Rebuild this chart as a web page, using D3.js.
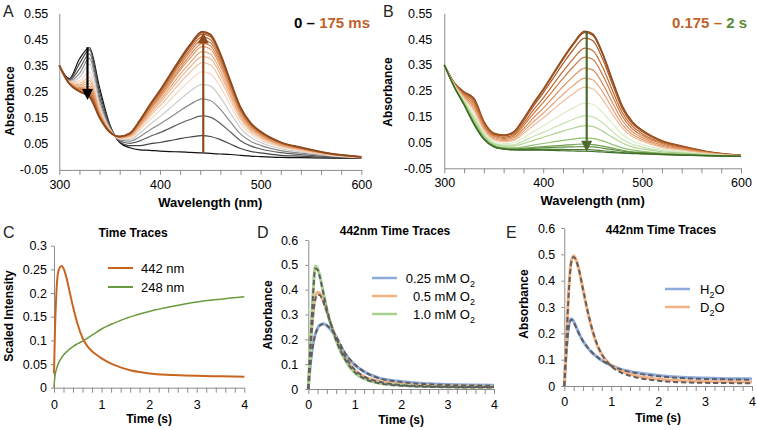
<!DOCTYPE html>
<html><head><meta charset="utf-8">
<script src="https://cdn.jsdelivr.net/npm/d3@7"></script>
<style>
body{margin:0;background:#fff;}
svg{display:block;font-family:"Liberation Sans",Arial,sans-serif;}
</style></head><body>
<svg id="c" width="757" height="430"></svg>
<script>
// ---------- DATA ----------
const wavelengths = [300,310,320,330,340,350,360,370,380,390,400,410,420,430,442,450,460,470,480,490,500,520,540,570,600];

// Panel A: 0 - 175 ms spectra
const spectraA = [
 [0.35,0.300,0.375,0.418,0.265,0.125,0.055,0.035,0.027,0.025,0.022,0.020,0.019,0.017,0.015,0.013,0.011,0.009,0.006,0.003,0.001,-0.002,-0.003,-0.005,-0.006],
 [0.35,0.297,0.357,0.410,0.249,0.121,0.058,0.043,0.043,0.050,0.055,0.062,0.070,0.076,0.081,0.078,0.066,0.049,0.032,0.021,0.015,0.006,0.003,-0.003,-0.005],
 [0.35,0.294,0.337,0.395,0.230,0.116,0.062,0.052,0.061,0.078,0.093,0.110,0.128,0.143,0.157,0.152,0.128,0.095,0.062,0.042,0.030,0.016,0.009,0.000,-0.004],
 [0.35,0.291,0.319,0.378,0.214,0.112,0.065,0.060,0.077,0.103,0.126,0.151,0.177,0.201,0.222,0.216,0.182,0.134,0.088,0.060,0.044,0.024,0.014,0.003,-0.003],
 [0.35,0.289,0.304,0.355,0.200,0.108,0.068,0.066,0.091,0.124,0.154,0.187,0.220,0.251,0.278,0.272,0.228,0.168,0.110,0.075,0.055,0.031,0.019,0.005,-0.003],
 [0.35,0.287,0.291,0.325,0.188,0.105,0.070,0.072,0.103,0.142,0.178,0.217,0.257,0.293,0.326,0.319,0.268,0.197,0.129,0.088,0.065,0.037,0.023,0.006,-0.002],
 [0.35,0.285,0.282,0.305,0.179,0.103,0.072,0.076,0.111,0.155,0.195,0.239,0.284,0.324,0.361,0.353,0.297,0.218,0.143,0.097,0.072,0.041,0.026,0.008,-0.002],
 [0.35,0.284,0.276,0.292,0.174,0.101,0.073,0.079,0.117,0.164,0.207,0.254,0.302,0.345,0.384,0.376,0.316,0.232,0.152,0.104,0.077,0.044,0.028,0.009,-0.001],
 [0.35,0.283,0.271,0.281,0.169,0.100,0.074,0.081,0.121,0.171,0.216,0.266,0.316,0.361,0.403,0.394,0.331,0.243,0.159,0.109,0.081,0.046,0.030,0.009,-0.001],
 [0.35,0.283,0.266,0.270,0.164,0.099,0.075,0.083,0.126,0.178,0.226,0.278,0.331,0.378,0.422,0.413,0.347,0.255,0.167,0.114,0.085,0.049,0.031,0.010,-0.001],
 [0.35,0.282,0.262,0.262,0.161,0.098,0.076,0.085,0.129,0.183,0.232,0.286,0.340,0.390,0.435,0.426,0.358,0.263,0.172,0.118,0.088,0.050,0.032,0.010,-0.001],
 [0.35,0.281,0.259,0.254,0.158,0.097,0.076,0.086,0.132,0.188,0.239,0.295,0.350,0.402,0.448,0.438,0.368,0.271,0.177,0.121,0.090,0.052,0.033,0.011,0.000],
 [0.35,0.281,0.255,0.246,0.155,0.096,0.077,0.088,0.135,0.193,0.245,0.302,0.360,0.412,0.460,0.450,0.378,0.278,0.182,0.125,0.093,0.054,0.034,0.011,0.000],
 [0.35,0.280,0.252,0.240,0.152,0.096,0.078,0.089,0.138,0.196,0.250,0.309,0.367,0.421,0.470,0.460,0.387,0.284,0.186,0.127,0.095,0.055,0.035,0.012,0.000],
 [0.35,0.280,0.251,0.235,0.151,0.095,0.078,0.090,0.139,0.198,0.253,0.312,0.372,0.426,0.476,0.466,0.392,0.287,0.188,0.129,0.096,0.055,0.036,0.012,0.000],
 [0.35,0.280,0.250,0.230,0.150,0.095,0.078,0.090,0.140,0.200,0.255,0.315,0.375,0.430,0.480,0.470,0.395,0.290,0.190,0.130,0.097,0.056,0.036,0.012,0.000]
];
const colorsA = ['#111111','#444444','#5e5e5e','#8a8a8a','#cbcbcb','#f5d7c2','#f0c3a2','#ecb690','#e7a87c','#e29b6a','#d98c57','#d07e48','#c4713b','#b86531','#a65827','#8e4a1f'];

// Panel B: 0.175 - 2 s spectra
const spectraB = [
 [0.35,0.280,0.245,0.220,0.130,0.085,0.078,0.090,0.140,0.200,0.255,0.315,0.375,0.430,0.480,0.470,0.395,0.290,0.190,0.130,0.097,0.056,0.036,0.012,0.000],
 [0.35,0.280,0.245,0.219,0.129,0.084,0.077,0.089,0.139,0.198,0.253,0.312,0.371,0.426,0.475,0.465,0.391,0.287,0.188,0.129,0.096,0.055,0.036,0.012,0.000],
 [0.35,0.279,0.242,0.214,0.126,0.082,0.075,0.086,0.133,0.190,0.242,0.298,0.355,0.407,0.454,0.445,0.374,0.274,0.180,0.123,0.092,0.053,0.034,0.011,0.000],
 [0.35,0.278,0.238,0.206,0.120,0.078,0.070,0.080,0.123,0.175,0.222,0.274,0.325,0.372,0.415,0.406,0.342,0.251,0.165,0.113,0.084,0.049,0.031,0.010,-0.001],
 [0.35,0.277,0.234,0.198,0.115,0.074,0.066,0.075,0.114,0.161,0.204,0.251,0.298,0.341,0.380,0.372,0.312,0.230,0.151,0.103,0.077,0.045,0.028,0.009,-0.001],
 [0.35,0.275,0.230,0.189,0.109,0.069,0.061,0.069,0.103,0.145,0.183,0.224,0.266,0.304,0.338,0.331,0.278,0.205,0.135,0.092,0.069,0.040,0.025,0.008,-0.001],
 [0.35,0.274,0.226,0.181,0.103,0.065,0.057,0.063,0.093,0.130,0.163,0.200,0.236,0.269,0.299,0.293,0.246,0.181,0.119,0.082,0.062,0.035,0.022,0.007,-0.002],
 [0.35,0.273,0.222,0.173,0.098,0.061,0.053,0.058,0.084,0.116,0.145,0.177,0.209,0.238,0.264,0.258,0.217,0.160,0.106,0.073,0.055,0.031,0.020,0.006,-0.002],
 [0.35,0.271,0.215,0.160,0.089,0.054,0.046,0.049,0.068,0.092,0.114,0.138,0.161,0.183,0.202,0.198,0.166,0.123,0.082,0.056,0.043,0.024,0.015,0.004,-0.002],
 [0.35,0.269,0.210,0.150,0.082,0.048,0.040,0.041,0.055,0.073,0.089,0.106,0.123,0.139,0.153,0.149,0.126,0.093,0.062,0.043,0.033,0.019,0.011,0.002,-0.003],
 [0.35,0.268,0.206,0.141,0.076,0.044,0.036,0.036,0.046,0.058,0.070,0.082,0.094,0.105,0.115,0.112,0.094,0.070,0.048,0.033,0.025,0.014,0.009,0.001,-0.003],
 [0.35,0.267,0.201,0.131,0.070,0.039,0.030,0.029,0.033,0.040,0.046,0.052,0.058,0.063,0.068,0.066,0.056,0.042,0.029,0.021,0.016,0.009,0.005,0.000,-0.004],
 [0.35,0.266,0.198,0.126,0.066,0.036,0.027,0.025,0.027,0.031,0.034,0.037,0.039,0.042,0.044,0.042,0.036,0.028,0.020,0.014,0.012,0.006,0.003,-0.001,-0.004],
 [0.35,0.266,0.197,0.124,0.065,0.035,0.026,0.024,0.025,0.027,0.029,0.031,0.032,0.033,0.034,0.033,0.028,0.022,0.016,0.012,0.010,0.005,0.002,-0.001,-0.004],
 [0.35,0.265,0.196,0.121,0.063,0.034,0.025,0.022,0.022,0.022,0.023,0.023,0.023,0.022,0.022,0.021,0.018,0.015,0.011,0.009,0.007,0.004,0.001,-0.002,-0.004],
 [0.35,0.265,0.195,0.120,0.062,0.033,0.024,0.021,0.020,0.020,0.020,0.019,0.018,0.017,0.016,0.015,0.013,0.011,0.009,0.007,0.006,0.003,0.001,-0.002,-0.004]
];
const colorsB = ['#8e4a1f','#9a501f','#ab5a25','#bc6a33','#cd7b44','#db8d59','#e7a276','#f0bc98','#ddebc9','#c7e1ae','#acd28f','#8fbe6d','#6e9f4e','#5d8d3f','#4e7c33','#3f6a27'];

const specYTicks = [-0.05,0.05,0.15,0.25,0.35,0.45,0.55];
const specXTicks = [300,400,500,600];

// Arrows (wavelength, start absorbance, end absorbance)
const arrowsA = [{wl:328, from:0.42, to:0.218, color:'#000000'}, {wl:443, from:0.015, to:0.476, color:'#8e4a1f'}];
const arrowsB = [{wl:444, from:0.48, to:0.014, color:'#4b6b2e'}];

// Panel C: time traces
const timeC442 = [0,0.02,0.05,0.08,0.12,0.16,0.2,0.25,0.3,0.35,0.4,0.5,0.6,0.7,0.8,0.9,1.0,1.2,1.4,1.6,1.8,2.0,2.5,3.0,3.5,4.0];
const valC442 = [0.03,0.12,0.2,0.24,0.254,0.257,0.252,0.237,0.216,0.193,0.171,0.133,0.105,0.088,0.077,0.069,0.062,0.051,0.043,0.037,0.033,0.030,0.027,0.025,0.024,0.023];
const timeC248 = [0,0.01,0.03,0.06,0.1,0.15,0.2,0.3,0.4,0.5,0.65,0.8,1.0,1.25,1.5,1.75,2.0,2.5,3.0,3.5,4.0];
const valC248 = [0,0.015,0.03,0.042,0.053,0.062,0.069,0.079,0.087,0.093,0.101,0.111,0.124,0.136,0.146,0.154,0.161,0.172,0.181,0.187,0.192];
const yTicksC = [0,0.05,0.1,0.15,0.2,0.25,0.3];

// Panel D: 442 nm traces at O2 concentrations
const timeD = [0,0.05,0.1,0.15,0.2,0.25,0.3,0.35,0.4,0.5,0.6,0.7,0.8,1.0,1.2,1.5,2.0,2.5,3.0,3.5,4.0];
const d025 = [0,0.11,0.18,0.22,0.245,0.257,0.262,0.262,0.255,0.235,0.21,0.172,0.14,0.097,0.07,0.046,0.03,0.022,0.018,0.016,0.015];
const fitD025 = [0,0.105,0.175,0.218,0.243,0.256,0.261,0.261,0.256,0.238,0.212,0.176,0.143,0.099,0.07,0.045,0.028,0.02,0.016,0.014,0.013];
const d05 = [0,0.17,0.3,0.37,0.39,0.385,0.365,0.34,0.31,0.255,0.205,0.16,0.125,0.075,0.05,0.032,0.019,0.014,0.012,0.011,0.01];
const fitD05 = [0,0.165,0.29,0.36,0.38,0.378,0.362,0.338,0.31,0.255,0.206,0.163,0.128,0.078,0.05,0.03,0.016,0.011,0.009,0.008,0.008];
const d10 = [0,0.2,0.38,0.495,0.485,0.455,0.41,0.365,0.32,0.25,0.195,0.15,0.115,0.065,0.042,0.025,0.015,0.011,0.009,0.008,0.008];
const fitD10 = [0,0.2,0.37,0.485,0.48,0.45,0.408,0.364,0.322,0.252,0.196,0.152,0.117,0.068,0.042,0.024,0.013,0.009,0.007,0.006,0.006];
const legendD = ['0.25 mM O', '0.5 mM O', '1.0 mM O'];

// Panel E: 442 nm traces H2O vs D2O
const timeE = [0,0.05,0.1,0.15,0.2,0.25,0.3,0.4,0.5,0.6,0.7,0.8,1.0,1.2,1.5,2.0,2.5,3.0,3.5,4.0];
const eH2O = [0,0.15,0.235,0.255,0.245,0.225,0.205,0.17,0.145,0.125,0.11,0.097,0.078,0.064,0.052,0.04,0.033,0.03,0.028,0.027];
const fitH2O = [0,0.14,0.228,0.252,0.243,0.223,0.203,0.17,0.146,0.126,0.11,0.097,0.077,0.063,0.05,0.037,0.03,0.027,0.025,0.024];
const eD2O = [0,0.2,0.38,0.475,0.495,0.48,0.45,0.365,0.28,0.21,0.155,0.12,0.078,0.058,0.04,0.026,0.02,0.017,0.016,0.015];
const fitD2O = [0,0.19,0.37,0.47,0.49,0.478,0.45,0.367,0.283,0.212,0.158,0.12,0.075,0.052,0.034,0.02,0.014,0.012,0.011,0.01];
const yTicksDE = [0,0.1,0.2,0.3,0.4,0.5,0.6];
const timeTicks = [0,1,2,3,4];

// ---------- DRAWING ----------
const svg = d3.select('#c');
const AX = '#8c8c8c';
const blue = '#8faadc', orange = '#f4b183', green = '#a9d18e', dash = '#5f5f5f';

function styleAxis(g, fs) {
  g.select('.domain').attr('stroke', AX).attr('stroke-width', 1);
  g.selectAll('.tick line').attr('stroke', AX);
  g.selectAll('.tick text').attr('fill', '#000').style('font-size', fs + 'px').style('font-family', '"Liberation Sans",Arial,sans-serif');
}
function drawAxes(x, y, o) {
  const minor = o.minor;
  const major = new Set(o.xMajor.map(String));
  const gx = svg.append('g').attr('transform', `translate(0,${y.range()[0]})`)
    .call(d3.axisBottom(x).tickValues(minor).tickSize(5).tickSizeOuter(0).tickPadding(o.xPad)
      .tickFormat(d => major.has(String(d)) ? String(d) : ''));
  styleAxis(gx, o.fs);
  const gy = svg.append('g').attr('transform', `translate(${x.range()[0]},0)`)
    .call(d3.axisLeft(y).tickValues(o.yTicks).tickSize(o.yTick).tickSizeOuter(0).tickPadding(o.yPad).tickFormat(o.yFmt));
  styleAxis(gy, o.fs);
  svg.append('text').attr('x', (x.range()[0] + x.range()[1]) / 2 + (o.xtDx||0)).attr('y', o.xtY)
    .attr('text-anchor', 'middle').attr('font-weight', 'bold').attr('font-size', o.xtFs).text(o.xTitle);
  svg.append('text').attr('transform', `translate(${o.ytX},${o.ytY}) rotate(-90)`)
    .attr('text-anchor', 'middle').attr('font-weight', 'bold').attr('font-size', o.ytFs).text(o.yTitle);
}
function arrow(x, y, a) {
  const x0 = x(a.wl), y0 = y(a.from), y1 = y(a.to);
  const dir = y1 > y0 ? 1 : -1, hh = 11, hw = 5.5;
  svg.append('line').attr('x1', x0).attr('x2', x0).attr('y1', y0).attr('y2', y1 - dir * hh)
    .attr('stroke', a.color).attr('stroke-width', 2.2);
  svg.append('path').attr('d', `M${x0},${y1} L${x0 - hw},${y1 - dir * hh} L${x0 + hw},${y1 - dir * hh} Z`).attr('fill', a.color);
}
function fmtSpec(d) { return d.toFixed(2); }
function fmtGen(d) { return String(+d.toFixed(2)); }

// Panel A
const xA = d3.scaleLinear().domain([300, 600]).range([59.3, 361.3]);
const yA = d3.scaleLinear().domain([-0.05, 0.55]).range([169.9, 13.3]);
const specMinor = d3.range(300, 601, 20);
drawAxes(xA, yA, {minor: specMinor, xMajor: specXTicks, xPad: 5, yTicks: specYTicks, yTick: 0, yPad: 11, yFmt: fmtSpec, fs: 12.5,
  xTitle: 'Wavelength  (nm)', xtY: 207, xtFs: 13, yTitle: 'Absorbance', ytX: 14, ytY: 101, ytFs: 12});
const lineA = d3.line().x((d, i) => xA(wavelengths[i])).y(d => yA(d)).curve(d3.curveMonotoneX);
spectraA.forEach((s, i) => svg.append('path').attr('d', lineA(s)).attr('fill', 'none')
  .attr('stroke', colorsA[i]).attr('stroke-width', i === spectraA.length - 1 ? 1.8 : 1.2));
arrowsA.forEach(a => arrow(xA, yA, a));
const tA = svg.append('text').attr('x', 370).attr('y', 28).attr('text-anchor', 'end').attr('font-weight', 'bold').attr('font-size', 15);
tA.append('tspan').attr('fill', '#000').text('0 – ');
tA.append('tspan').attr('fill', '#c0622a').text('175 ms');

// Panel B
const xB = d3.scaleLinear().domain([300, 600]).range([444.3, 741]);
const yB = d3.scaleLinear().domain([-0.05, 0.55]).range([168.3, 13.3]);
drawAxes(xB, yB, {minor: specMinor, xMajor: specXTicks, xPad: 5, yTicks: specYTicks, yTick: 0, yPad: 12, yFmt: fmtSpec, fs: 12.5,
  xTitle: 'Wavelength  (nm)', xtY: 205, xtFs: 13, yTitle: 'Absorbance', ytX: 392, ytY: 92, ytFs: 12});
const lineB = d3.line().x((d, i) => xB(wavelengths[i])).y(d => yB(d)).curve(d3.curveMonotoneX);
spectraB.forEach((s, i) => svg.append('path').attr('d', lineB(s)).attr('fill', 'none')
  .attr('stroke', colorsB[i]).attr('stroke-width', i === 0 ? 1.8 : 1.2));
arrowsB.forEach(a => arrow(xB, yB, a));
const tB = svg.append('text').attr('x', 747).attr('y', 28).attr('text-anchor', 'end').attr('font-weight', 'bold').attr('font-size', 15);
tB.append('tspan').attr('fill', '#c0622a').text('0.175 – ');
tB.append('tspan').attr('fill', '#5b8a36').text('2 s');

// Panel letters
[['A', 3, 17], ['B', 383, 17], ['C', 3, 238], ['D', 257, 238], ['E', 506, 238]].forEach(([t, x, y]) =>
  svg.append('text').attr('x', x).attr('y', y).attr('font-size', 16).attr('fill', '#222').text(t));

const timeMinor = d3.range(0, 4.0001, 0.2).map(d => +d.toFixed(1));

// Panel C
const xC = d3.scaleLinear().domain([0, 4]).range([54, 244.3]);
const yC = d3.scaleLinear().domain([0, 0.3]).range([387.7, 245.7]);
drawAxes(xC, yC, {minor: timeMinor, xMajor: timeTicks, xPad: 7, yTicks: yTicksC, yTick: 3, yPad: 4, yFmt: fmtGen, fs: 12.5,
  xTitle: 'Time (s)', xtY: 423, xtFs: 12, yTitle: 'Scaled Intensity', ytX: 13, ytY: 316, ytFs: 12});
svg.append('text').attr('x', 133).attr('y', 237).attr('text-anchor', 'middle').attr('font-weight', 'bold').attr('font-size', 12).text('Time Traces');
const lineC = (ts) => d3.line().x((d, i) => xC(ts[i])).y(d => yC(d)).curve(d3.curveMonotoneX);
svg.append('path').attr('d', lineC(timeC248)(valC248)).attr('fill', 'none').attr('stroke', '#6a9a3e').attr('stroke-width', 1.5);
svg.append('path').attr('d', lineC(timeC442)(valC442)).attr('fill', 'none').attr('stroke', '#c8651f').attr('stroke-width', 2);
[['442 nm', '#c8651f', 268], ['248 nm', '#6a9a3e', 287]].forEach(([t, c, y]) => {
  svg.append('line').attr('x1', 108).attr('x2', 133).attr('y1', y).attr('y2', y).attr('stroke', c).attr('stroke-width', 2);
  svg.append('text').attr('x', 141).attr('y', y + 4.5).attr('font-size', 13).text(t);
});

// Panel D
const xD = d3.scaleLinear().domain([0, 4]).range([308.3, 494]);
const yD = d3.scaleLinear().domain([0, 0.6]).range([389, 240]);
drawAxes(xD, yD, {minor: timeMinor, xMajor: timeTicks, xPad: 6, yTicks: yTicksDE, yTick: 3, yPad: 7, yFmt: fmtGen, fs: 12.5,
  xTitle: 'Time (s)', xtY: 424, xtFs: 12, yTitle: 'Absorbance', ytX: 272, ytY: 315, ytFs: 12});
svg.append('text').attr('x', 395).attr('y', 235).attr('text-anchor', 'middle').attr('font-weight', 'bold').attr('font-size', 12).text('442nm Time Traces');
const lineD = d3.line().x((d, i) => xD(timeD[i])).y(d => yD(d)).curve(d3.curveMonotoneX);
[[d025, blue], [d05, orange], [d10, green]].forEach(([s, c]) =>
  svg.append('path').attr('d', lineD(s)).attr('fill', 'none').attr('stroke', c).attr('stroke-width', 3));
[fitD025, fitD05, fitD10].forEach(s =>
  svg.append('path').attr('d', lineD(s)).attr('fill', 'none').attr('stroke', dash).attr('stroke-width', 2).attr('stroke-dasharray', '5,3'));
[[legendD[0], blue, 278], [legendD[1], orange, 296], [legendD[2], green, 314]].forEach(([t, c, y]) => {
  svg.append('line').attr('x1', 372).attr('x2', 397).attr('y1', y).attr('y2', y).attr('stroke', c).attr('stroke-width', 2.5);
  const tx = svg.append('text').attr('x', 475).attr('y', y + 4.5).attr('font-size', 13).attr('text-anchor', 'end');
  tx.append('tspan').text(t);
  tx.append('tspan').attr('font-size', 9).attr('dy', 4).text('2');
});

// Panel E
const xE = d3.scaleLinear().domain([0, 4]).range([564.3, 752]);
const yE = d3.scaleLinear().domain([0, 0.6]).range([386, 228]);
drawAxes(xE, yE, {minor: timeMinor, xMajor: timeTicks, xPad: 6, yTicks: yTicksDE, yTick: 3, yPad: 6, yFmt: fmtGen, fs: 12.5,
  xTitle: 'Time (s)', xtY: 422, xtFs: 12, yTitle: 'Absorbance', ytX: 528, ytY: 304, ytFs: 12});
svg.append('text').attr('x', 661).attr('y', 234).attr('text-anchor', 'middle').attr('font-weight', 'bold').attr('font-size', 12).text('442nm Time Traces');
const lineE = d3.line().x((d, i) => xE(timeE[i])).y(d => yE(d)).curve(d3.curveMonotoneX);
[[eH2O, blue], [eD2O, orange]].forEach(([s, c]) =>
  svg.append('path').attr('d', lineE(s)).attr('fill', 'none').attr('stroke', c).attr('stroke-width', 3));
[fitH2O, fitD2O].forEach(s =>
  svg.append('path').attr('d', lineE(s)).attr('fill', 'none').attr('stroke', dash).attr('stroke-width', 2).attr('stroke-dasharray', '5,3'));
[['H', blue, 289], ['D', orange, 307]].forEach(([t, c, y]) => {
  svg.append('line').attr('x1', 665).attr('x2', 690).attr('y1', y).attr('y2', y).attr('stroke', c).attr('stroke-width', 2.5);
  const tx = svg.append('text').attr('x', 700).attr('y', y + 4.5).attr('font-size', 13);
  tx.append('tspan').text(t);
  tx.append('tspan').attr('font-size', 9).attr('dy', 4).text('2');
  tx.append('tspan').attr('dy', -4).text('O');
});
</script>
</body></html>
